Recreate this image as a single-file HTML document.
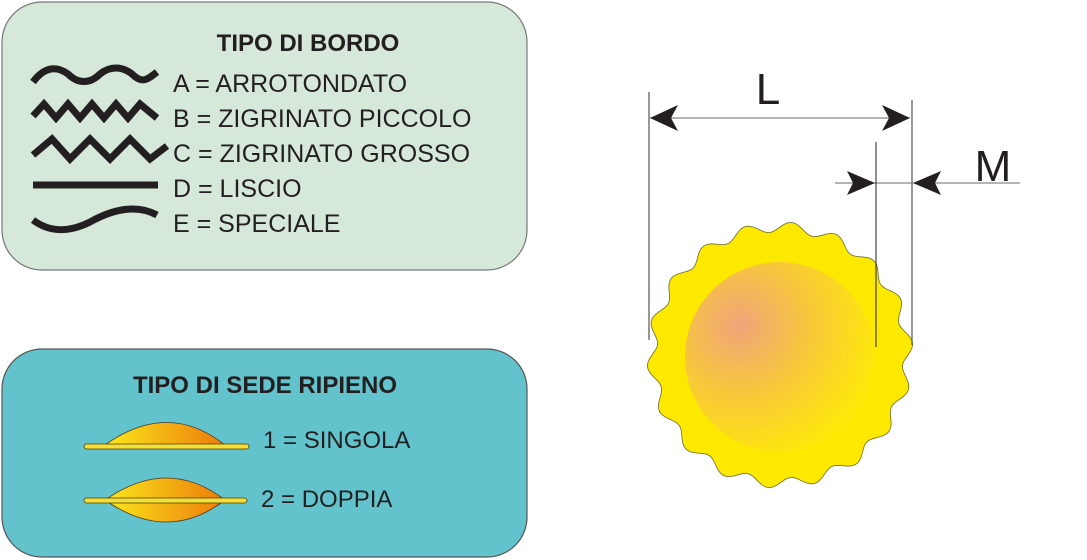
<!DOCTYPE html>
<html><head><meta charset="utf-8"><style>
html,body{margin:0;padding:0;background:#fff;width:1087px;height:560px;overflow:hidden}
text{font-family:"Liberation Sans",sans-serif;fill:#231f20}
</style></head><body>
<svg width="1087" height="560" viewBox="0 0 1087 560" xmlns="http://www.w3.org/2000/svg">
<defs>
<linearGradient id="lens" x1="0" x2="1" y1="0" y2="0">
<stop offset="0" stop-color="#fbe81c"/><stop offset="1" stop-color="#ec7a0a"/></linearGradient>
<radialGradient id="knob" cx="740" cy="325" r="140" gradientUnits="userSpaceOnUse">
<stop offset="0" stop-color="#f0a47a"/><stop offset="0.5" stop-color="#f8c83a"/><stop offset="1" stop-color="#fde80a"/></radialGradient>
</defs>
<rect x="2" y="2" width="525" height="268" rx="40" fill="#d6e8d9" stroke="#777" stroke-width="1.2"/>
<rect x="2" y="349" width="525" height="208" rx="40" fill="#63c3cd" stroke="#555" stroke-width="1.2"/>
<text x="308" y="51" font-size="24" font-weight="bold" text-anchor="middle">TIPO DI BORDO</text>
<g font-size="25">
<text x="173" y="92">A = ARROTONDATO</text>
<text x="173" y="127">B = ZIGRINATO PICCOLO</text>
<text x="173" y="162">C = ZIGRINATO GROSSO</text>
<text x="173" y="197">D = LISCIO</text>
<text x="173" y="232">E = SPECIALE</text>
</g>
<g fill="none" stroke="#231f20" stroke-width="7">
<path d="M33,82 C45,66 57,66 68,74 C78,84 90,84 100,74 C110,66 122,66 132,74 C142,84 147,80 157,72"/>
<path d="M33,116 L44,104 L56,118 L68,104 L80,118 L92,104 L104,118 L116,104 L128,118 L140,104 L157,118"/>
<path d="M33,155 L52,139 L70,159 L90,139 L110,159 L130,139 L150,159 L167,146"/>
<path d="M33,185 L158,185"/>
<path d="M33,220 C50,233 70,232 90,222 C115,208 138,205 157,215"/>
</g>
<text x="265" y="393" font-size="24" font-weight="bold" text-anchor="middle">TIPO DI SEDE RIPIENO</text>
<text x="263" y="448" font-size="24">1 = SINGOLA</text>
<text x="261" y="507" font-size="24">2 = DOPPIA</text>
<g stroke="#4a3a20" stroke-width="0.8">
<path d="M105,445 Q168,400 225,445 Z" fill="url(#lens)"/>
<rect x="84" y="444" width="165" height="5" rx="2.5" fill="#f4e030"/>
<path d="M105,500 Q168,456 225,500 Q168,544 105,500 Z" fill="url(#lens)"/>
<rect x="84" y="498" width="163" height="5" rx="2.5" fill="#f4e030"/>
</g>
<path id="kp" fill="#fde800" stroke="#6a6a30" stroke-width="0.8"/>
<circle cx="780" cy="357" r="95" fill="url(#knob)"/>
<g stroke="#555" stroke-width="1.2" fill="none">
<line x1="649" y1="92" x2="649" y2="340"/>
<line x1="912" y1="100" x2="912" y2="345"/>
<line x1="650" y1="118" x2="910" y2="118" stroke="#888"/>
<line x1="835" y1="183" x2="1020" y2="183" stroke="#888"/>
</g>
<line x1="876" y1="142" x2="876" y2="347" stroke="#222" stroke-width="1"/>
<g fill="#231f20">
<path d="M650,118 L678,105 L671,118 L678,131 Z"/>
<path d="M910,118 L882,105 L889,118 L882,131 Z"/>
<path d="M875,183 L847,171 L853,183 L847,195 Z"/>
<path d="M913,183 L941,171 L935,183 L941,195 Z"/>
</g>
<text x="768" y="104" font-size="44" text-anchor="middle">L</text>
<text x="993" y="181" font-size="44" text-anchor="middle">M</text>
</svg>
<script>
var cx=780,cy=355,d="";
for(var i=0;i<=720;i++){var t=i/720*2*Math.PI;var r=128+5*Math.cos(18*t+Math.PI/2);
d+=(i?"L":"M")+(cx+r*Math.cos(t)).toFixed(2)+","+(cy+r*Math.sin(t)).toFixed(2);}
document.getElementById("kp").setAttribute("d",d+"Z");
</script>
</body></html>
